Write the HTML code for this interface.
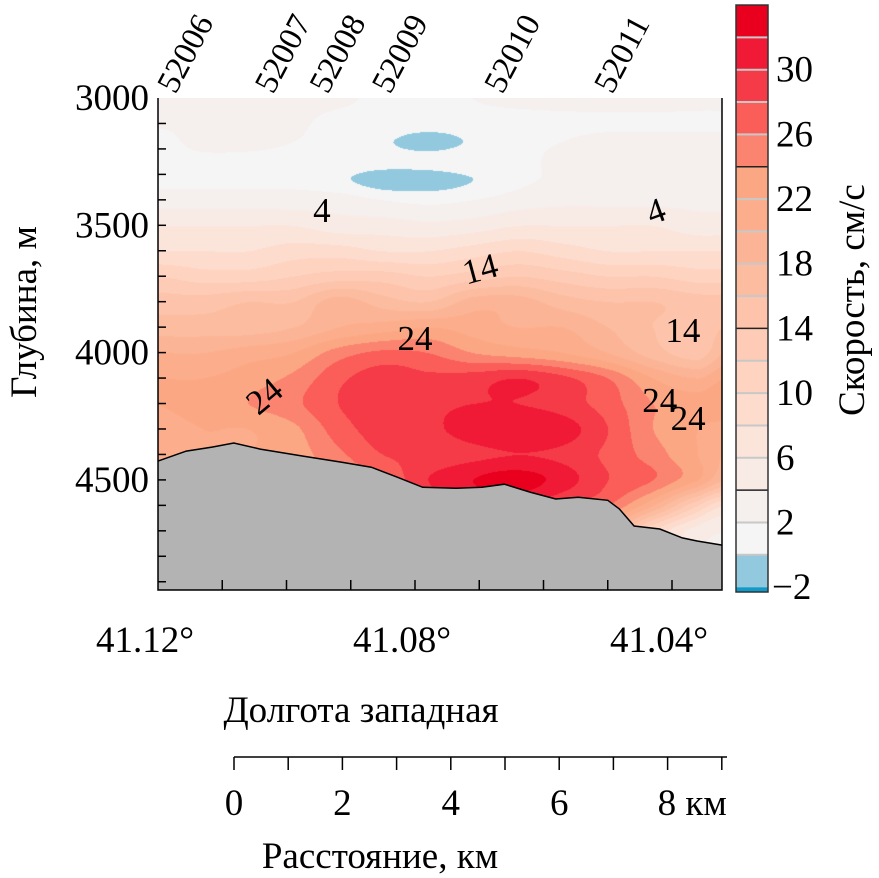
<!DOCTYPE html>
<html><head><meta charset="utf-8">
<style>
html,body{margin:0;padding:0;background:#fff;}
#wrap{position:relative;width:879px;height:878px;overflow:hidden;font-family:"Liberation Serif",serif;}
canvas{position:absolute;left:158px;top:98px;}
svg{position:absolute;left:0;top:0;}
text{font-family:"Liberation Serif",serif;fill:#000;}
</style></head>
<body>
<div id="wrap">
<canvas id="cv" width="564" height="492"></canvas>
<svg id="sv" width="879" height="878"></svg>
</div>
<script>
// ---- data ----
const lonCols = [41.120,41.113,41.106,41.099,41.092,41.085,41.078,41.071,41.064,41.057,41.050,41.043,41.036,41.032];
const depthRows = [3000,3080,3170,3250,3320,3400,3500,3600,3700,3800,3900,4000,4100,4200,4300,4400,4500,4600,4700,4950];
const speedGrid = [
[4,3.5,4,3.5,2.5,1.5,1.5,2,2.5,3,3.5,3.5,3,3],
[2.5,2.5,3,2.5,1.5,1.5,1.5,1.5,1.5,1.5,1.5,1.5,1.5,1.5],
[1.5,2.5,2.5,2,1.5,0.3,-0.8,0.3,1.5,2,2.5,2.5,2.5,2.5],
[1.5,1.5,1.5,1.5,1.5,1,1,1.5,1.5,2.5,2.5,2.5,2.5,2.5],
[1.5,1.5,1.5,1.5,0.5,-1.2,-1.2,0,1.5,2.5,3,3,3,3],
[3,3,3,3,3,2,1.5,2,3,3.5,3.5,3.5,3.5,3.5],
[6,6,6,6,5,5,4.5,5,6,6,6,6,5,5],
[8,8,8,9,9,8,8,9,10,9,8,8,8,8],
[12,11,11,12,13,13,12,13,14,13,12,12,11,11],
[15,15,16,16,19,17,16,19,19,17,16,16,15,15],
[17,17,17,18,20,21,22,21,20,20,18,16,15,16],
[20,20,21,22,25,26.5,26,24,23,22,20,17,15,18],
[22,22,23,24.5,27.5,29,28.5,29,30,28.5,26,22,20,22],
[22,23,24,25.5,28,29,29.5,30,30,29,27,24,23,24],
[21,22,22,23.5,27,29,29.5,31,32,31,28,24,22,21],
[21,22,22,23,25.5,28,28.5,29.5,30,29.5,27.5,25,22,20],
[22,22,22,23,24,26,30,32,33,31,28,26,22,18],
[20,20,20,20,22,24,28,30,30,28,26,20,12,8],
[20,20,20,20,22,24,26,26,26,24,20,10,5,4],
[20,20,20,20,22,24,26,26,26,24,20,10,5,4]
];
const levels = [-2,0,2,4,6,8,10,12,14,16,18,20,22,24,26,28,30,32,34];
const bandColors = ["#0f9ac8","#92c9df","#f5f5f5","#f5efee","#f8ebe6","#fbe5db","#fddcce","#fed3c0","#fdcbb6","#fdc4ab","#fcbca0","#fcb496","#fcad8c","#fca783","#fb8470","#fb5e58","#f53a48","#f01a36","#e8001e"];
const cbTicks = [-2,2,6,10,14,18,22,26,30];
const boldLevels = [4,14,24];
const bottomLon = [41.120,41.1156,41.1116,41.1082,41.1041,41.0973,41.0915,41.0868,41.0828,41.0788,41.0736,41.0696,41.0661,41.0621,41.0581,41.0546,41.0500,41.0482,41.0459,41.0419,41.0384,41.0361,41.0322];
const bottomDepth = [4426,4387,4371,4355,4379,4407,4430,4450,4489,4529,4533,4529,4517,4548,4575,4568,4580,4614,4681,4693,4728,4740,4756];
const stationNames = ["52006","52007","52008","52009","52010","52011"];
const stationLon = [41.1173,41.1021,41.0936,41.0839,41.0664,41.0493];
const depthTicks = [3000,3500,4000,4500];
const lonTicks = [41.12,41.08,41.04];
const kmTicks = [0,2,4,6,8];
const contourLabels = [["4",41.0945,3487,0],["4",41.0419,3487,-20],["14",41.0694,3715,-15],["14",41.0383,3958,0],["24",41.0800,3990,0],["24",41.1023,4206,-40],["24",41.0419,4233,0],["24",41.0375,4304,0]];

// ---- scales ----
const X0=158,X1=722,Y0=98,Y1=590;
function xs(lon){return X0+(41.12-lon)*6425;}
function ys(d){return Y0+(d-3000)*0.2546;}
function xl(px){return 41.12-(px-X0)/6425;}
function yd(py){return 3000+(py-Y0)/0.2546;}
function kmX(k){return 234+k*54.2;}
function cbY(v){return 592-(v+2.3)*16.17;}

// ---- field (Catmull-Rom in index space) ----
function fracIdx(arr,v){
  const desc=arr[0]>arr[1];
  for(let i=0;i<arr.length-1;i++){
    const a=arr[i],b=arr[i+1];
    if(desc?(v<=a&&v>=b):(v>=a&&v<=b)) return i+(v-a)/(b-a);
  }
  return (desc? v>arr[0] : v<arr[0]) ? 0 : arr.length-1;
}
function cr(p0,p1,p2,p3,t){
  return 0.5*((2*p1)+(-p0+p2)*t+(2*p0-5*p1+4*p2-p3)*t*t+(-p0+3*p1-3*p2+p3)*t*t*t);
}
const NR=depthRows.length,NC=lonCols.length;
function g(r,c){r=Math.max(0,Math.min(NR-1,r));c=Math.max(0,Math.min(NC-1,c));return speedGrid[r][c];}
function sample(fr,fc){
  const r=Math.min(Math.floor(fr),NR-2),c=Math.min(Math.floor(fc),NC-2);
  const ty=fr-r,tx=fc-c,rows=[];
  for(let k=-1;k<=2;k++) rows.push(cr(g(r+k,c-1),g(r+k,c),g(r+k,c+1),g(r+k,c+2),tx));
  return cr(rows[0],rows[1],rows[2],rows[3],ty);
}
const cv=document.getElementById('cv'),ctx=cv.getContext('2d');
const img=ctx.createImageData(564,492);
function hex(h){return [parseInt(h.substr(1,2),16),parseInt(h.substr(3,2),16),parseInt(h.substr(5,2),16)];}
const rgb=bandColors.map(hex);
const colIdx=[];for(let px=0;px<564;px++)colIdx.push(fracIdx(lonCols,xl(px+X0)));
for(let py=0;py<492;py++){
  const fr=fracIdx(depthRows,yd(py+Y0));
  for(let px=0;px<564;px++){
    const v=sample(fr,colIdx[px]);
    let b=0;for(let k=0;k<levels.length;k++){if(v>=levels[k])b=k+1;}
    b=Math.min(b,bandColors.length-1);
    const col=rgb[b],o=(py*564+px)*4;
    img.data[o]=col[0];img.data[o+1]=col[1];img.data[o+2]=col[2];img.data[o+3]=255;
  }
}
ctx.putImageData(img,0,0);

// ---- svg ----
const NS="http://www.w3.org/2000/svg",sv=document.getElementById('sv');
function mk(t,a,parent){const e=document.createElementNS(NS,t);for(const k in a)e.setAttribute(k,a[k]);(parent||sv).appendChild(e);return e;}
function txt(s,a){const e=mk('text',a);e.textContent=s;return e;}
const FS=37;

let pts=bottomLon.map((l,i)=>xs(l).toFixed(1)+","+ys(bottomDepth[i]).toFixed(1));
const seabed=mk('polygon',{points:pts.join(" ")+` ${X1},${Y1} ${X0},${Y1}`,fill:"#b3b3b3",stroke:"none"});


const bline=mk('polyline',{points:pts.join(" "),fill:"none",stroke:"#000","stroke-width":1.5});



contourLabels.forEach(c=>{
  const x=xs(c[1]),y=ys(c[2]);
  const e=txt(c[0],{x:x,y:y,"font-size":35,"text-anchor":"middle",transform:`rotate(${c[3]} ${x} ${y})`});
  
  
});

const fr=mk('path',{d:`M${X0},${Y0} V${Y1} H${X1} V${Y0}`,fill:"none",stroke:"#000","stroke-width":1.5});


for(let d=3100;d<=4900;d+=100){
  const t=mk('line',{x1:X0,x2:X0+8,y1:ys(d),y2:ys(d),stroke:"#000","stroke-width":1.5});
  
  
}
for(let i=1;i<=8;i++){
  const l=41.12-i*0.01;
  const t=mk('line',{x1:xs(l),x2:xs(l),y1:Y1,y2:Y1-10,stroke:"#000","stroke-width":1.5});
  
  
}
depthTicks.forEach(d=>{
  const e=txt(String(d),{x:149,y:ys(d)+12,"font-size":FS,"text-anchor":"end"});
  
  
});
lonTicks.forEach(l=>{
  const e=txt(l.toFixed(2)+"°",{x:xs(l)-13,y:652,"font-size":FS,"text-anchor":"middle"});
  
  
});
stationNames.forEach((s,i)=>{
  const x=xs(stationLon[i]),y=95;
  const e=txt(s,{x:x,y:y,"font-size":33,transform:`rotate(-62 ${x} ${y})`});
  
  
});
let e=txt("Глубина, м",{x:0,y:0,"font-size":FS,"text-anchor":"middle",transform:"translate(36 312) rotate(-90)"});


e=txt("Долгота западная",{x:361,y:722,"font-size":FS,"text-anchor":"middle"});



e=mk('line',{x1:234,x2:727,y1:757,y2:757,stroke:"#000","stroke-width":1.5});


for(let k=0;k<=9;k++){
  const t=mk('line',{x1:kmX(k),x2:kmX(k),y1:757,y2:770,stroke:"#000","stroke-width":1.5});
  
  
}
kmTicks.forEach(k=>{
  const t=txt(k===8?"8 км":String(k),{x:k===8?kmX(k)-10:kmX(k),y:815,"font-size":FS,"text-anchor":k===8?"start":"middle"});
  
  
});
e=txt("Расстояние, км",{x:380,y:868,"font-size":FS,"text-anchor":"middle"});



for(let i=0;i<bandColors.length;i++){
  const lo=i===0?-2.3:levels[i-1];
  const top=cbY(i===bandColors.length-1?34:levels[i]), bot=cbY(lo);
  const r=mk('rect',{x:736,y:top,width:32,height:bot-top,fill:bandColors[i]});
  
  
}
levels.forEach(v=>{
  if(v===-2||v===34)return;
  const b=boldLevels.includes(v);
  const l=mk('line',{x1:736,x2:768,y1:cbY(v),y2:cbY(v),stroke:b?"#222":"#c8c8c8","stroke-width":b?1.5:2});
  
  
});
e=mk('rect',{x:736,y:cbY(34),width:32,height:cbY(-2.3)-cbY(34),fill:"none",stroke:"#333","stroke-width":1.5});


cbTicks.forEach(v=>{
  const t=txt(v<0?"\u2212"+Math.abs(v):String(v),{x:v<0?772:776,y:cbY(v)+12,"font-size":FS});
  
  
});
e=txt("Скорость, см/с",{x:0,y:0,"font-size":FS,"text-anchor":"middle",transform:"translate(864 300) rotate(-90)"});


</script>
</body></html>
